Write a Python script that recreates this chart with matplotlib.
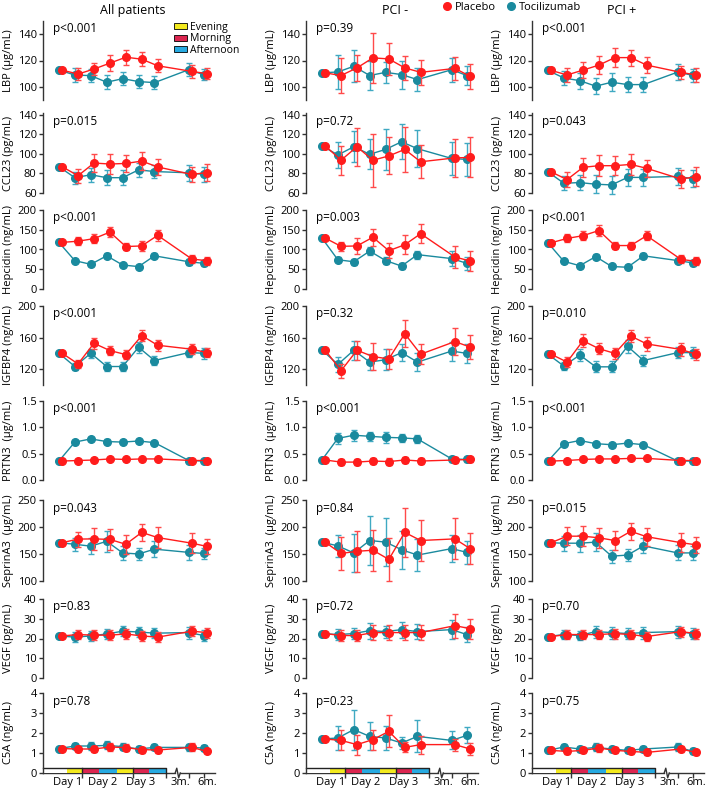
import matplotlib
matplotlib.use("Agg")
import matplotlib.pyplot as plt
from matplotlib.patches import Patch
from matplotlib.lines import Line2D
import numpy as np

plt.rcParams['font.family'] = ['Open Sans', 'DejaVu Sans']
plt.rcParams['font.size'] = 8

# time points: baseline, day1-day3 (6 samples), 3 months, 6 months
xs = np.array([0, 1, 2, 3, 4, 5, 6, 8.15, 9.1])

col_titles = ['All patients', 'PCI -', 'PCI +']
markers = ['LBP (μg/mL)', 'CCL23 (pg/mL)', 'Hepcidin (ng/mL)', 'IGFBP4 (ng/mL)',
           'PRTN3  (μg/mL)', 'SeprinA3  (μg/mL)', 'VEGF (pg/mL)', 'C5A (ng/mL)']

p_all = ['p<0.001', 'p=0.015', 'p<0.001', 'p<0.001', 'p<0.001', 'p=0.043', 'p=0.83', 'p=0.78']
p_neg = ['p=0.39', 'p=0.72', 'p=0.003', 'p=0.32', 'p<0.001', 'p=0.84', 'p=0.72', 'p=0.23']
p_pos = ['p<0.001', 'p=0.043', 'p<0.001', 'p=0.010', 'p<0.001', 'p=0.015', 'p=0.70', 'p=0.75']

# each list: [all patients, PCI -, PCI +]
lbp_pla = [[112.7, 109.7, 113.5, 118, 122.5, 121, 116, 111.7, 110],
           [110.6, 108.6, 114.4, 122, 121.2, 114.4, 111, 114, 108],
           [112.5, 109, 112.7, 116.5, 122.2, 122.2, 116.5, 111, 109]]
lbp_pla_err = [[1, 4.4, 4.7, 6, 5.6, 5.4, 5, 5, 4],
               [1, 13, 10, 19, 12, 9, 9.5, 9, 9.5],
               [1, 5, 6, 7, 7, 6, 6, 5, 5]]
lbp_toc = [[112.7, 109, 108.5, 103.5, 106.2, 104, 103.2, 113, 109.2],
           [110.6, 111.3, 115.6, 108.6, 111, 109.3, 105.5, 113, 108.6],
           [112.5, 106.7, 104.7, 100.5, 103.5, 101.7, 101.7, 111.2, 108.7]]
lbp_toc_err = [[1, 5, 5, 5.5, 5, 5, 5, 5, 4],
               [1, 13, 12, 11, 8, 10.7, 8.5, 9, 7],
               [1, 5, 6, 6, 7, 6, 6, 6, 5]]

ccl_pla = [[87, 77.7, 90.7, 89.7, 90.3, 92.7, 86.7, 79, 81],
           [108.4, 93.6, 107.4, 93.6, 98, 104.7, 92, 96, 96.4],
           [81.7, 73.7, 86.3, 88, 88, 89.3, 85.3, 74.3, 76.7]]
ccl_pla_err = [[1, 7, 9, 10, 9, 9, 8, 8, 9],
               [1, 15, 19.6, 27, 19, 23, 17, 19.6, 20.5],
               [1, 8, 10, 11, 10, 11, 9, 9, 10]]
ccl_toc = [[87, 75.7, 78.7, 75.7, 75.7, 83.7, 82, 80.7, 79],
           [108.4, 99, 107.4, 99.7, 104.7, 112.5, 105.4, 95.4, 94.4],
           [81.7, 70, 70.7, 69, 68.3, 76, 76, 77, 74.7]]
ccl_toc_err = [[1, 6, 7, 8, 8, 7, 7, 8, 8],
               [1, 13, 16, 15.5, 21, 18, 19, 17, 17],
               [1, 7, 8, 9, 9, 9, 9, 9, 9]]

hep_pla = [[118, 121, 127.5, 144, 107.5, 109, 135.8, 75.8, 71.7],
           [129, 108, 109, 131, 97, 112, 140, 81, 71],
           [117, 128, 135, 148, 110, 110, 135, 75, 70]]
hep_pla_err = [[2, 10, 12, 12, 10, 12, 14, 10, 10],
               [2, 12, 20, 22, 19, 24, 24, 29, 25],
               [2, 10, 12, 13, 10, 10, 12, 10, 10]]
hep_toc = [[118, 71.7, 62.5, 84, 60.8, 56.7, 84, 69, 65],
           [129, 74, 69, 96, 72, 58, 87, 77, 65],
           [117, 70, 59, 82, 57, 55, 84, 72, 66]]
hep_toc_err = [[2, 4, 4, 6, 4, 4, 6, 7, 7],
               [2, 6, 8, 11, 8, 8, 10, 18, 17],
               [2, 5, 5, 6, 5, 5, 6, 7, 7]]

igf_pla = [[140.2, 126.7, 152.8, 143.6, 138.5, 162.5, 150.3, 145.3, 141],
           [144.4, 118, 144, 136, 133, 165, 139, 155, 148],
           [139, 129, 156, 146, 140, 162, 152, 145, 139]]
igf_pla_err = [[1, 5, 7, 6, 6, 7, 7, 6, 6],
               [1, 9, 12, 17, 13, 17, 13, 17, 15],
               [1, 6, 8, 7, 7, 8, 9, 8, 7]]
igf_toc = [[140.2, 123.4, 140.2, 123.4, 123.4, 147.8, 131, 141, 140.2],
           [144.4, 126, 144, 129, 132, 141, 129, 143, 140],
           [139, 124, 138, 123, 123, 149, 131, 141, 141]]
igf_toc_err = [[1, 4, 6, 6, 6, 7, 6, 6, 7],
               [1, 9, 12, 10, 13, 11, 11, 12, 12],
               [1, 5, 7, 7, 7, 8, 7, 7, 7]]

prt_pla = [[0.36, 0.37, 0.38, 0.40, 0.39, 0.40, 0.40, 0.37, 0.37],
           [0.38, 0.34, 0.34, 0.36, 0.35, 0.38, 0.36, 0.38, 0.39],
           [0.36, 0.37, 0.39, 0.40, 0.40, 0.41, 0.41, 0.37, 0.37]]
prt_pla_err = [[0.01, 0.02, 0.02, 0.02, 0.02, 0.02, 0.02, 0.02, 0.02],
               [0.01, 0.06, 0.06, 0.06, 0.06, 0.06, 0.06, 0.05, 0.05],
               [0.01, 0.02, 0.02, 0.02, 0.02, 0.02, 0.02, 0.02, 0.02]]
prt_toc = [[0.36, 0.72, 0.78, 0.73, 0.72, 0.74, 0.71, 0.37, 0.36],
           [0.38, 0.79, 0.85, 0.83, 0.81, 0.80, 0.78, 0.40, 0.39],
           [0.36, 0.69, 0.75, 0.69, 0.67, 0.70, 0.67, 0.36, 0.36]]
prt_toc_err = [[0.01, 0.04, 0.04, 0.04, 0.04, 0.04, 0.04, 0.02, 0.02],
               [0.01, 0.10, 0.10, 0.09, 0.10, 0.08, 0.08, 0.05, 0.05],
               [0.01, 0.04, 0.04, 0.04, 0.04, 0.04, 0.04, 0.02, 0.02]]

ser_pla = [[171, 177.6, 178, 177, 168, 190, 180.4, 170, 164],
           [172, 151, 155, 157, 140, 190, 175, 178, 160],
           [171, 183, 183, 180, 175, 192, 182, 171, 167]]
ser_pla_err = [[2, 14, 20, 20, 18, 16, 19, 18, 14],
               [2, 30, 38, 38, 40, 45, 38, 38, 28],
               [2, 17, 19, 19, 17, 16, 17, 17, 15]]
ser_toc = [[171, 168, 164.5, 173.5, 152, 150, 159, 153, 151],
           [172, 165, 152, 175, 172, 158, 148, 160, 153],
           [171, 170, 170, 172, 146, 148, 165, 152, 152]]
ser_toc_err = [[2, 12, 15, 19, 13, 11, 15, 14, 11],
               [2, 20, 35, 45, 45, 35, 30, 25, 22],
               [2, 14, 16, 17, 12, 11, 14, 14, 13]]

veg_pla = [[21.3, 22, 21.7, 21.7, 22.3, 21.3, 20.7, 23.7, 23],
           [22.5, 21.5, 21.5, 23, 23, 23, 23, 26.5, 25],
           [21, 22, 22, 22, 22.5, 22, 21, 23.5, 22.5]]
veg_pla_err = [[0.5, 2.5, 2.5, 2.5, 2.5, 2.5, 2.5, 2.5, 2.5],
               [0.5, 3, 3, 4, 4, 4, 4, 6, 5],
               [0.5, 2.5, 2.5, 2.5, 2.5, 2.5, 2.5, 2.5, 2.5]]
veg_toc = [[21.3, 20.7, 21.3, 22.3, 23.7, 23.3, 22.7, 23, 21.5],
           [22.5, 22, 22.5, 24, 23.5, 24.5, 23.5, 24.5, 22],
           [21, 22, 21.5, 23.5, 23, 22.5, 23, 23.5, 22.5]]
veg_toc_err = [[0.5, 2.5, 2.5, 2.5, 2.5, 2.5, 2.5, 3, 3],
               [0.5, 3, 3, 4, 3, 4, 4, 5, 4],
               [0.5, 2.5, 2.5, 3, 3, 3, 3, 3, 3]]

c5a_pla = [[1.22, 1.2, 1.2, 1.3, 1.27, 1.17, 1.15, 1.28, 1.08],
           [1.7, 1.63, 1.42, 1.67, 2.08, 1.28, 1.42, 1.42, 1.2],
           [1.13, 1.08, 1.13, 1.25, 1.13, 1.08, 1.03, 1.2, 1.03]]
c5a_pla_err = [[0.05, 0.15, 0.15, 0.2, 0.18, 0.15, 0.15, 0.2, 0.1],
               [0.05, 0.5, 0.5, 0.5, 0.8, 0.25, 0.45, 0.3, 0.3],
               [0.05, 0.15, 0.15, 0.2, 0.15, 0.15, 0.12, 0.15, 0.12]]
c5a_toc = [[1.22, 1.35, 1.35, 1.38, 1.32, 1.2, 1.28, 1.28, 1.25],
           [1.7, 1.75, 2.17, 1.83, 1.75, 1.5, 1.83, 1.63, 1.88],
           [1.13, 1.3, 1.2, 1.28, 1.2, 1.13, 1.2, 1.3, 1.08]]
c5a_toc_err = [[0.05, 0.15, 0.2, 0.2, 0.18, 0.15, 0.15, 0.18, 0.15],
               [0.05, 0.6, 1.0, 0.7, 0.6, 0.3, 0.8, 0.45, 0.4],
               [0.05, 0.15, 0.15, 0.2, 0.15, 0.15, 0.15, 0.18, 0.15]]

pla = [lbp_pla, ccl_pla, hep_pla, igf_pla, prt_pla, ser_pla, veg_pla, c5a_pla]
pla_err = [lbp_pla_err, ccl_pla_err, hep_pla_err, igf_pla_err, prt_pla_err, ser_pla_err, veg_pla_err, c5a_pla_err]
toc = [lbp_toc, ccl_toc, hep_toc, igf_toc, prt_toc, ser_toc, veg_toc, c5a_toc]
toc_err = [lbp_toc_err, ccl_toc_err, hep_toc_err, igf_toc_err, prt_toc_err, ser_toc_err, veg_toc_err, c5a_toc_err]
pvals = [p_all, p_neg, p_pos]

ylims = [(90, 150), (60, 142), (0, 200), (100, 200), (0, 1.5), (100, 250), (0, 40), (0, 4)]
yticks = [[100, 120, 140], [60, 80, 100, 120, 140], [0, 50, 100, 150, 200], [120, 160, 200],
          [0.0, 0.5, 1.0, 1.5], [100, 150, 200, 250], [0, 10, 20, 30, 40], [0, 1, 2, 3, 4]]

# time-of-day bar under the bottom panels
bar_edges = [-1.0, 0.48, 1.46, 2.54, 3.65, 4.62, 5.67, 6.75]
yellow = '#f3ea1e'
crimson = '#dc2650'
sky = '#27aae1'
bar_colors = ['white', yellow, crimson, sky, yellow, crimson, sky]
day_labels = ['Day 1', 'Day 2', 'Day 3', '3m.', '6m.']
day_label_x = [0.55, 2.73, 5.1, 7.6, 9.3]
major_x = [1.46, 4.62, 6.75, 8.15, 9.1]

red = '#ff1c1c'
red_err = '#ff4a4a'
teal = '#1a8a9e'
teal_err = '#3fa9c2'

W, H = 709, 790
fig = plt.figure(figsize=(W / 100, H / 100), dpi=100)

col_left = [43, 306, 532]
col_w = 172
row_top = [21, 113, 210, 306, 401, 500, 599, 693]
row_bot = [100, 193, 289, 385, 480, 581, 678, 773]

for c in range(3):
    for r in range(8):
        ax = fig.add_axes([col_left[c] / W, 1 - row_bot[r] / H, col_w / W, (row_bot[r] - row_top[r]) / H])
        ax.patch.set_alpha(0)
        ax.errorbar(xs, toc[r][c], yerr=toc_err[r][c], fmt='-o', color=teal, ecolor=teal_err,
                    ms=5.5, lw=1, elinewidth=1, capsize=2.2, capthick=1, clip_on=False, zorder=3)
        ax.errorbar(xs + 0.2, pla[r][c], yerr=pla_err[r][c], fmt='-o', color=red, ecolor=red_err,
                    ms=5.5, lw=1, elinewidth=1, capsize=2.2, capthick=1, clip_on=False, zorder=4)
        ax.set_xlim(-1.0, 9.8)
        ax.set_ylim(*ylims[r])
        ax.set_yticks(yticks[r])
        if r == 4:
            ax.set_yticklabels(['%.1f' % v for v in yticks[r]])
        for s in ['top', 'right', 'bottom']:
            ax.spines[s].set_visible(False)
        ax.spines['left'].set_linewidth(1.0)
        ax.spines['left'].set_color('#333333')
        ax.tick_params(axis='y', direction='out', length=3, width=1.0, pad=1.5, labelsize=8, color='#333333')
        ax.set_ylabel(markers[r], fontsize=8)
        ax.yaxis.set_label_coords(-0.17, 0.5)
        ax.text(0.06, 0.9, pvals[c][r], transform=ax.transAxes, fontsize=8.5, va='center', ha='left')

        if r == 0:
            ax.text(0.52, 1.13, col_titles[c], transform=ax.transAxes, fontsize=9, ha='center', va='center')
            if c == 0:
                handles = [Patch(facecolor=yellow, edgecolor='black', lw=0.6, label='Evening'),
                           Patch(facecolor=crimson, edgecolor='black', lw=0.6, label='Morning'),
                           Patch(facecolor=sky, edgecolor='black', lw=0.6, label='Afternoon')]
                ax.legend(handles=handles, loc='upper left', bbox_to_anchor=(0.76, 0.99), frameon=False,
                          fontsize=7.5, handlelength=1.3, handleheight=0.5, labelspacing=0.05,
                          borderpad=0, borderaxespad=0, handletextpad=0.3)

        if r == 7:
            # x axis with a break before the follow-up points
            xt = ax.get_xaxis_transform()
            ax.plot([-1.0, 7.3], [0, 0], transform=xt, color='#333333', lw=1.0, clip_on=False)
            ax.plot([7.62, 9.8], [0, 0], transform=xt, color='#333333', lw=1.0, clip_on=False)
            ax.plot([7.3, 7.4, 7.52, 7.62], [-0.0, 0.06, -0.06, 0.0], transform=xt, color='#333333',
                    lw=1.0, clip_on=False)
            segs = [(bar_edges[i], bar_edges[i + 1] - bar_edges[i]) for i in range(len(bar_colors))]
            ax.broken_barh(segs, (0, 0.27), facecolors=bar_colors, edgecolor='none', zorder=2)
            ax.plot([bar_edges[0], bar_edges[-1], bar_edges[-1]], [0.27, 0.27, 0], color='#222222',
                    lw=1.0, clip_on=False, zorder=2.5)
            for bx in [bar_edges[2], bar_edges[5]]:
                ax.plot([bx, bx], [0, 0.27], color='#222222', lw=1.0, zorder=2.5)
            ax.set_xticks(major_x)
            ax.set_xticklabels([])
            ax.set_xticks(day_label_x, minor=True)
            ax.set_xticklabels(day_labels, minor=True)
            ax.tick_params(axis='x', which='major', direction='out', length=3.5, width=1.0, color='#333333')
            ax.tick_params(axis='x', which='minor', length=0, pad=3, labelsize=8)
        else:
            ax.set_xticks([])

# treatment legend at the top
leg_handles = [Line2D([], [], marker='o', ls='none', color=red, ms=5.5, label='Placebo'),
               Line2D([], [], marker='o', ls='none', color=teal, ms=5.5, label='Tocilizumab')]
fig.legend(handles=leg_handles, loc='center', bbox_to_anchor=(512 / W, 1 - 7 / H), ncol=2, frameon=False,
           fontsize=8, handlelength=0.8, handletextpad=0.3, columnspacing=1.0, borderpad=0)

fig.savefig('out.png', dpi=100)
